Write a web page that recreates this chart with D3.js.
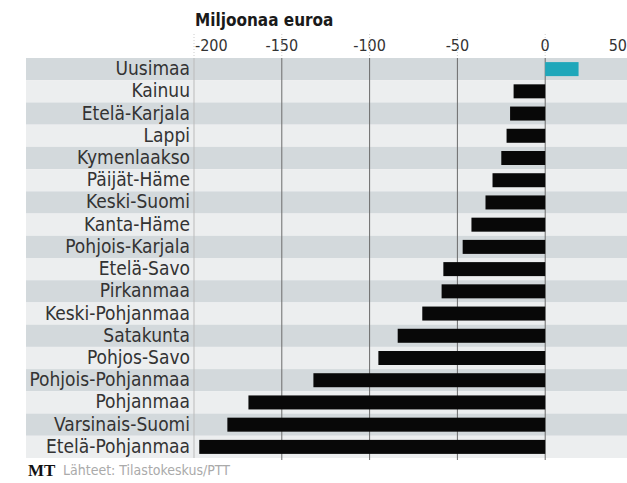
<!DOCTYPE html>
<html>
<head>
<meta charset="utf-8">
<script src="https://cdn.jsdelivr.net/npm/d3@7"></script>
<style>
  body { margin: 0; background: #fff; }
  svg { display: block; }
</style>
</head>
<body>
<svg id="chart" width="627" height="483"></svg>
<script>
// regions, top to bottom
const regions = ['Uusimaa', 'Kainuu', 'Etelä-Karjala', 'Lappi', 'Kymenlaakso', 'Päijät-Häme',
  'Keski-Suomi', 'Kanta-Häme', 'Pohjois-Karjala', 'Etelä-Savo', 'Pirkanmaa', 'Keski-Pohjanmaa',
  'Satakunta', 'Pohjos-Savo', 'Pohjois-Pohjanmaa', 'Pohjanmaa', 'Varsinais-Suomi', 'Etelä-Pohjanmaa'];
// change, million euros
const values = [19, -18, -20, -22, -25, -30, -34, -42, -47, -58, -59, -70, -84, -95, -132, -169, -181, -197];
const ticks = [-200, -150, -100, -50, 0, 50];
const gridTicks = [-150, -100, -50, 0];

const svg = d3.select('#chart');
const font = "'DejaVu Sans Condensed', 'DejaVu Sans', sans-serif";

const x = d3.scaleLinear().domain([-200, 50]).range([194, 633]);
const y = d3.scaleBand().domain(regions).range([58, 458]).padding(0);

// row stripes
svg.append('g').selectAll('rect')
  .data(regions)
  .join('rect')
  .attr('x', 26)
  .attr('y', d => y(d))
  .attr('width', 627 - 26)
  .attr('height', y.bandwidth())
  .attr('fill', (d, i) => i % 2 === 0 ? '#d3d9dc' : '#eceeef');

// title
svg.append('text')
  .attr('x', 195).attr('y', 26)
  .attr('font-family', font).attr('font-weight', 'bold')
  .attr('font-size', 17).attr('fill', '#1a1a1a')
  .text('Miljoonaa euroa');

// tick labels (first one starts at the axis, last one is held inside the frame)
svg.append('g').selectAll('text')
  .data(ticks)
  .join('text')
  .attr('x', d => d === -200 ? x(d) + 1 : d === 50 ? 627 : x(d))
  .attr('y', 51)
  .attr('text-anchor', d => d === -200 ? 'start' : d === 50 ? 'end' : 'middle')
  .attr('font-family', font).attr('font-size', 16).attr('fill', '#333')
  .text(d => String(d));

// faint tick marks above plot
svg.append('g').selectAll('line')
  .data(ticks)
  .join('line')
  .attr('x1', d => x(d)).attr('x2', d => x(d))
  .attr('y1', 34).attr('y2', 56)
  .attr('stroke', '#ccc').attr('stroke-dasharray', '1,2');

// grid lines
svg.append('g').selectAll('line')
  .data(gridTicks)
  .join('line')
  .attr('x1', d => x(d)).attr('x2', d => x(d))
  .attr('y1', 58).attr('y2', 460)
  .attr('stroke', '#6b6b6b').attr('stroke-width', 1);

// left axis line
svg.append('line')
  .attr('x1', x(-200)).attr('x2', x(-200))
  .attr('y1', 58).attr('y2', 458)
  .attr('stroke', '#bbb');

// bars
const barH = 14;
svg.append('g').selectAll('rect')
  .data(values)
  .join('rect')
  .attr('x', d => x(Math.min(0, d)))
  .attr('y', (d, i) => y(regions[i]) + (y.bandwidth() - barH) / 2)
  .attr('width', d => Math.abs(x(d) - x(0)))
  .attr('height', barH)
  .attr('fill', d => d > 0 ? '#1fa7ba' : '#080808');

// region labels
svg.append('g').selectAll('text')
  .data(regions)
  .join('text')
  .attr('x', 190)
  .attr('y', d => y(d) + y.bandwidth() / 2 + 6)
  .attr('text-anchor', 'end')
  .attr('font-family', font).attr('font-size', 19).attr('fill', '#333')
  .text(d => d);

// source
svg.append('text')
  .attr('x', 28).attr('y', 476)
  .attr('font-family', "'Liberation Serif', serif").attr('font-weight', 'bold')
  .attr('font-size', 17).attr('fill', '#111')
  .text('MT');
svg.append('text')
  .attr('x', 63).attr('y', 475)
  .attr('font-family', font).attr('font-size', 14).attr('fill', '#aaa')
  .text('Lähteet: Tilastokeskus/PTT');
</script>
</body>
</html>
